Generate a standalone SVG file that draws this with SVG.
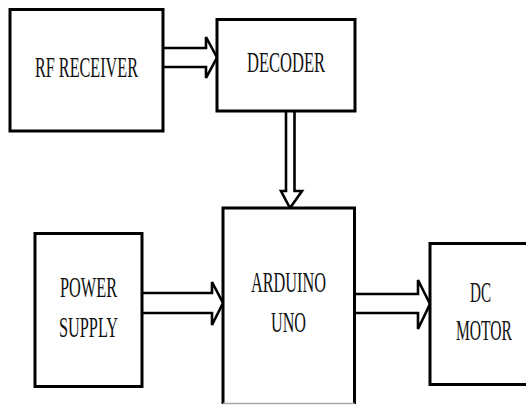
<svg xmlns="http://www.w3.org/2000/svg" width="526" height="405" viewBox="0 0 526 405">
<style>
.box{fill:#fff;stroke:#000;stroke-width:3}
.arr{fill:none;stroke:#000;stroke-width:2.6;stroke-linejoin:miter}
.lbl{font-family:"Liberation Serif","Times New Roman",serif;font-size:30px;fill:#111;text-anchor:middle}
</style>
<rect width="526" height="405" fill="#fff"/>
<g id="connectors">
<polyline class="arr" points="163,48 206,48 206,37 217,57.5 206,78 206,67 163,67"/>
<polyline class="arr" points="286,112 286,191 281,191 290,208 302,191 294.5,191 294.5,112"/>
<polyline class="arr" points="142,293 212,293 212,282 223,303 212,325 212,313 142,313"/>
<polyline class="arr" points="355,294 418,294 418,280 430,304 418,329 418,313 355,313"/>
</g>
<g id="rf-receiver">
<rect class="box" x="10" y="9.5" width="153" height="121.5"/>
<text class="lbl" x="86.5" y="77" textLength="103" lengthAdjust="spacingAndGlyphs">RF RECEIVER</text>
</g>
<g id="decoder">
<rect class="box" x="217" y="19.5" width="138" height="91.5"/>
<text class="lbl" x="286" y="72" textLength="78" lengthAdjust="spacingAndGlyphs">DECODER</text>
</g>
<g id="power-supply">
<rect class="box" x="35" y="233.5" width="107" height="153"/>
<text class="lbl" x="88.5" y="297" textLength="57" lengthAdjust="spacingAndGlyphs">POWER</text>
<text class="lbl" x="88.5" y="337" textLength="59" lengthAdjust="spacingAndGlyphs">SUPPLY</text>
</g>
<g id="arduino-uno">
<path d="M223,404 V208 H354.5 V404" fill="#fff" stroke="#000" stroke-width="3"/>
<line x1="223" y1="403.5" x2="354.5" y2="403.5" stroke="#aaa" stroke-width="1.5"/>
<text class="lbl" x="288.5" y="292" textLength="75" lengthAdjust="spacingAndGlyphs">ARDUINO</text>
<text class="lbl" x="288.5" y="332" textLength="35" lengthAdjust="spacingAndGlyphs">UNO</text>
</g>
<g id="dc-motor">
<rect class="box" x="430" y="243.5" width="120" height="141"/>
<text class="lbl" x="480.5" y="302" textLength="21" lengthAdjust="spacingAndGlyphs">DC</text>
<text class="lbl" x="484" y="340" textLength="56" lengthAdjust="spacingAndGlyphs">MOTOR</text>
</g>
</svg>
